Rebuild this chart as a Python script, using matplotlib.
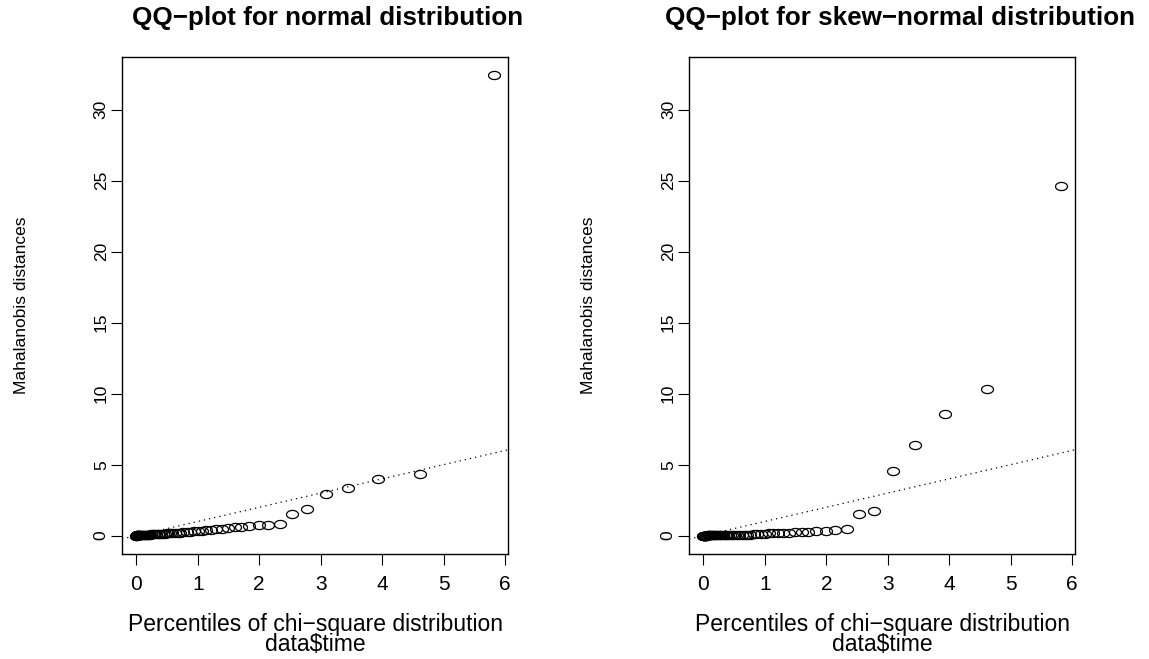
import matplotlib
matplotlib.use("Agg")
import matplotlib.pyplot as plt
from matplotlib.path import Path
import numpy as np

plt.rcParams['font.family'] = ['Liberation Sans', 'DejaVu Sans']

# percentiles of chi-square distribution (sorted)
chi_q = [0.0004, 0.0016, 0.0036, 0.0064, 0.0100, 0.0144, 0.0196, 0.0256, 0.0324, 0.0400,
         0.0488, 0.0581, 0.0686, 0.080, 0.092, 0.105, 0.119, 0.134, 0.150, 0.167,
         0.186, 0.205, 0.226, 0.247, 0.270, 0.295, 0.320, 0.347, 0.376, 0.406,
         0.438, 0.472, 0.507, 0.545, 0.585, 0.626, 0.671, 0.718, 0.767, 0.820,
         0.876, 0.935, 1.00, 1.07, 1.14, 1.22, 1.30, 1.39, 1.49, 1.60,
         1.71, 1.84, 1.99, 2.15, 2.33, 2.54, 2.78, 3.08, 3.44, 3.93,
         4.61, 5.82]

# sorted Mahalanobis distances, normal fit
d_normal = [0.005, 0.008, 0.011, 0.014, 0.017, 0.020, 0.023, 0.026, 0.029, 0.032,
            0.035, 0.038, 0.041, 0.044, 0.047, 0.050, 0.054, 0.058, 0.062, 0.066,
            0.070, 0.074, 0.079, 0.084, 0.089, 0.095, 0.101, 0.107, 0.114, 0.121,
            0.129, 0.137, 0.16, 0.17, 0.18, 0.19, 0.20, 0.22, 0.24, 0.26,
            0.28, 0.30, 0.33, 0.36, 0.39, 0.42, 0.46, 0.50, 0.54, 0.58,
            0.63, 0.68, 0.73, 0.78, 0.82, 1.50, 1.86, 2.96, 3.33, 4.00,
            4.32, 32.4]

# sorted Mahalanobis distances, skew-normal fit
d_skew = [0.001, 0.002, 0.003, 0.004, 0.005, 0.006, 0.007, 0.008, 0.009, 0.010,
          0.011, 0.012, 0.013, 0.014, 0.015, 0.016, 0.017, 0.018, 0.019, 0.020,
          0.021, 0.022, 0.023, 0.024, 0.025, 0.026, 0.028, 0.030, 0.032, 0.034,
          0.036, 0.038, 0.041, 0.045, 0.050, 0.056, 0.063, 0.071, 0.080, 0.090,
          0.10, 0.12, 0.15, 0.16, 0.17, 0.19, 0.20, 0.22, 0.24, 0.26,
          0.28, 0.30, 0.33, 0.40, 0.47, 1.55, 1.71, 4.55, 6.39, 8.54,
          10.33, 24.6]

titles = ["QQ\u2212plot for normal distribution", "QQ\u2212plot for skew\u2212normal distribution"]
xlab = "Percentiles of chi\u2212square distribution\ndata$time"
ylab = "Mahalanobis distances"

# open circle, a bit wider than tall like in the source image
t = np.linspace(0, 2 * np.pi, 60)
ell = Path(np.column_stack([np.cos(t), 0.68 * np.sin(t)]), closed=True)

fig = plt.figure(figsize=(11.49, 6.59), dpi=100)
axes = [fig.add_axes([0.1062, 0.1593, 0.3362, 0.7542]),
        fig.add_axes([0.5997, 0.1593, 0.3362, 0.7542])]

xr = max(chi_q) - min(chi_q)
yr = max(d_normal) - min(d_normal)
for ax, d in zip(axes, [d_normal, d_skew]):
    ax.plot(chi_q, d, linestyle='none', marker=ell, markersize=8.6,
            markerfacecolor='none', markeredgecolor='black', markeredgewidth=0.9)
    ax.axline((0, 0), slope=1, color='black', lw=0.9, linestyle=(0, (1, 3.2)))
    ax.set_xlim(min(chi_q) - 0.04 * xr, max(chi_q) + 0.04 * xr)
    ax.set_ylim(min(d_normal) - 0.04 * yr, max(d_normal) + 0.04 * yr)
    ax.set_xticks(range(0, 7))
    ax.set_yticks(range(0, 31, 5))
    ax.tick_params(axis='both', direction='out', length=8, width=0.8, color='black')
    ax.tick_params(axis='x', labelsize=15, pad=7)
    ax.tick_params(axis='y', labelsize=12.5, pad=1.5)
    for lab in ax.get_yticklabels():
        lab.set_rotation(90)
        lab.set_va('center')
        lab.set_ha('right')
    for s in ax.spines.values():
        s.set_linewidth(1.0)
    ax.set_xlabel(xlab, fontsize=16.5, linespacing=0.85)
    ax.xaxis.set_label_coords(0.5, -0.118)
    ax.set_ylabel(ylab, fontsize=12.5)
    ax.yaxis.set_label_coords(-0.242, 0.5)

fig.text(0.1149, 0.972, titles[0], fontsize=18.7, fontweight='bold', va='center', ha='left')
fig.text(0.579, 0.972, titles[1], fontsize=18.7, fontweight='bold', va='center', ha='left')

plt.savefig("out.png", dpi=100)
